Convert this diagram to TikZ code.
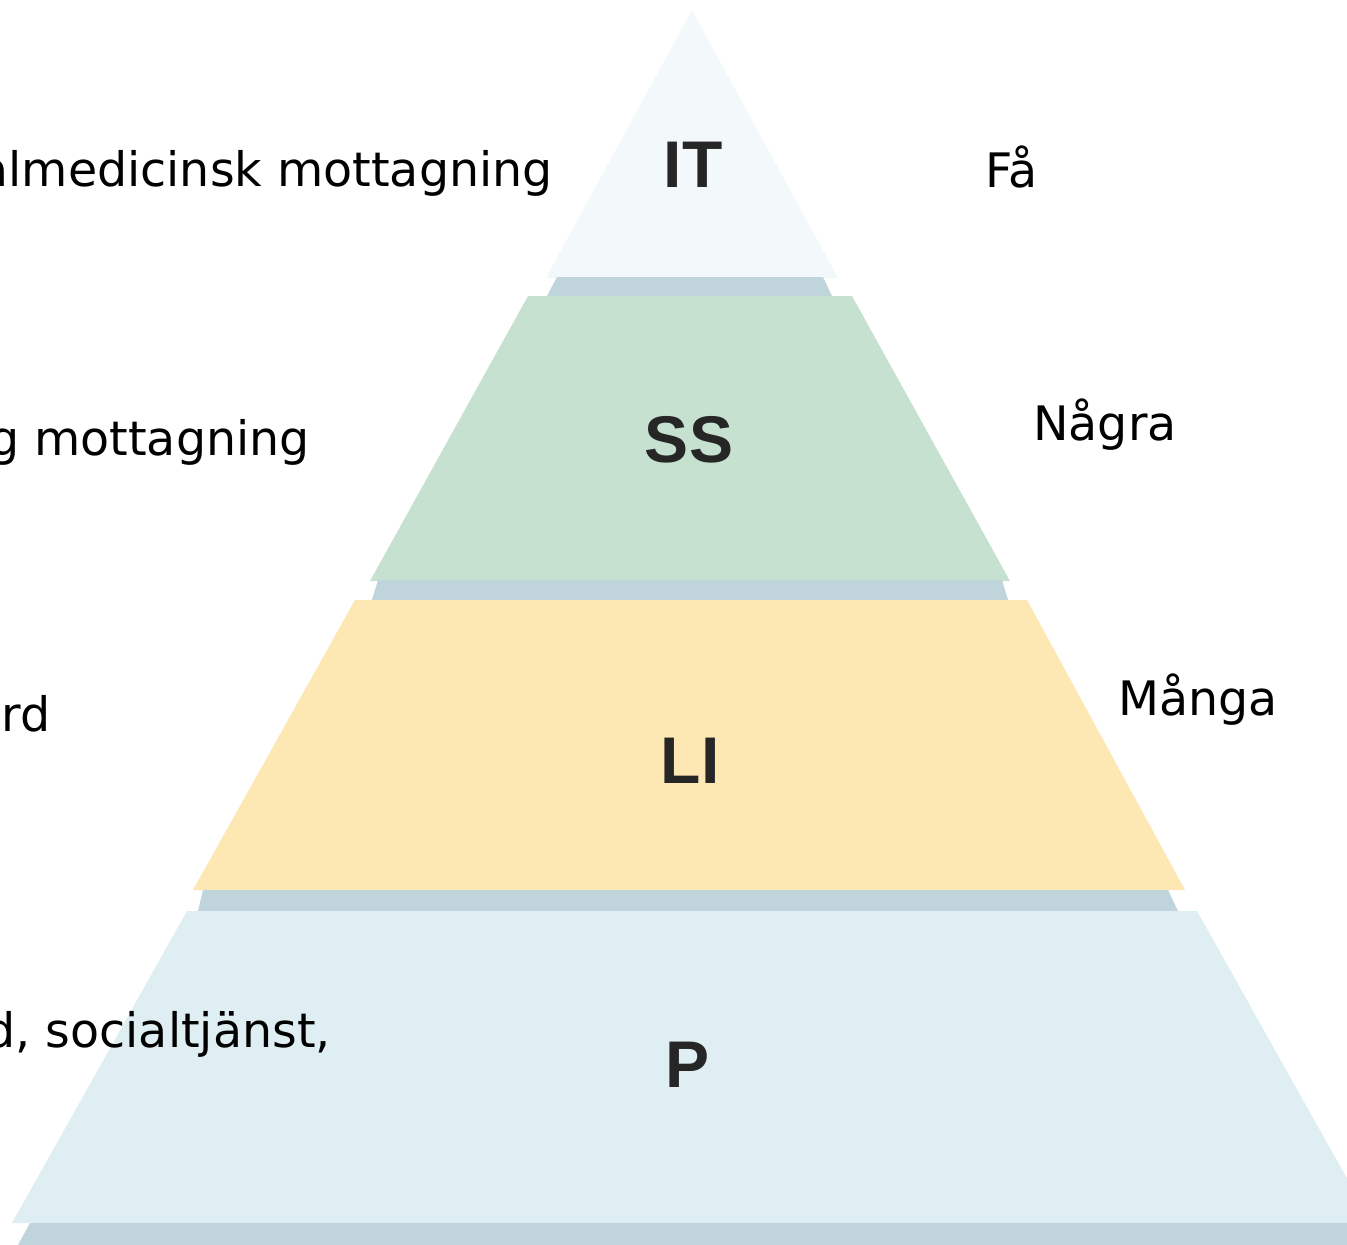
\documentclass[tikz,border=0pt]{standalone}
\usepackage{fontspec}
\setmainfont{DejaVu Sans}
\newfontfamily\tierfont{Liberation Sans}
\definecolor{itfill}{HTML}{F3F8FA}
\definecolor{ssfill}{HTML}{C7E1D0}
\definecolor{lifill}{HTML}{FDE7B2}
\definecolor{pfill}{HTML}{DFEEF2}
\definecolor{ledge}{HTML}{BFD4DB}
\tikzset{
    tier/.style={inner sep=0pt, anchor=base, font=\tierfont\bfseries\fontsize{66pt}{70pt}\selectfont, text=black!85},
    side/.style={inner sep=0pt, font=\fontsize{47.5pt}{56pt}\selectfont}
}
\begin{document}
\begin{tikzpicture}[x=1pt,y=-1pt]
                \useasboundingbox (0,0) rectangle (1347,1245);
                \clip (0,0) rectangle (1347,1245);

                \fill[itfill] (692,10) -- (838,278) -- (546,278) -- cycle;
                \fill[ledge] (557,277) -- (823,277) -- (832,296) -- (547,296) -- cycle;
                \fill[ssfill] (528,296) -- (852,296) -- (1010,581) -- (370,581) -- cycle;
                \fill[ledge] (378,580) -- (1002,580) -- (1008,600) -- (372,600) -- cycle;
                \fill[lifill] (355,600) -- (1027,600) -- (1185,890) -- (193,890) -- cycle;
                \fill[ledge] (203,890) -- (1168,890) -- (1178,911) -- (198,911) -- cycle;
                \fill[pfill] (187,911) -- (1197,911) -- (1372,1223) -- (12,1223) -- cycle;
                \fill[ledge] (30,1223) -- (1362,1223) -- (1372,1245) -- (18,1245) -- cycle;

                \node[tier] (it) at (693,187) {IT};
                \node[tier] (ss) at (689,462) {SS};
                \node[tier] (li) at (690,783) {LI};
                \node[tier] (p) at (688,1087) {P};

                \node[side, anchor=base east] (itleft) at (553,186) {almedicinsk mottagning};
                \node[side, anchor=base east] (ssleft) at (310,455) {g mottagning};
                \node[side, anchor=base east] (lileft) at (51,731) {rd};
                \node[side, anchor=base east] (pleft) at (331,1047) {d, socialtjänst,};

                \node[side, anchor=base west] (itright) at (985,187) {Få};
                \node[side, anchor=base west] (ssright) at (1033,440) {Några};
                \node[side, anchor=base west] (liright) at (1118,715) {Många};
            \end{tikzpicture}
\end{document}
